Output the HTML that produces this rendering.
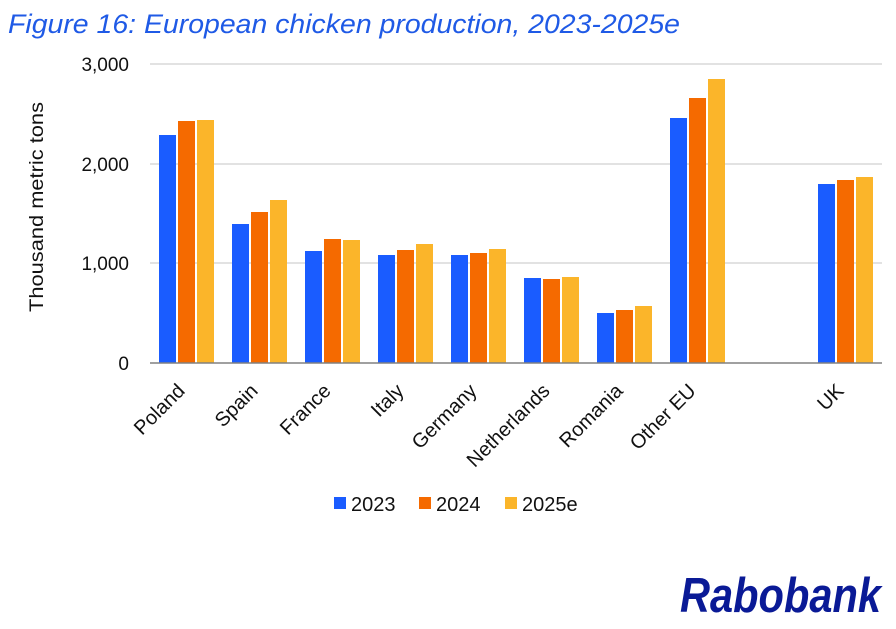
<!DOCTYPE html>
<html><head><meta charset="utf-8"><style>
html,body{margin:0;padding:0;background:#fff;width:896px;height:629px;overflow:hidden}
svg{display:block}
text{font-family:"Liberation Sans",sans-serif}
</style></head><body>
<svg width="896" height="629" viewBox="0 0 896 629" xmlns="http://www.w3.org/2000/svg">
<text x="8" y="33" font-style="italic" font-size="27" fill="#1f5ae6" textLength="672" lengthAdjust="spacingAndGlyphs">Figure 16: European chicken production, 2023-2025e</text>
<g stroke="#d9d9d9" stroke-width="1.5">
<line x1="150" y1="64" x2="882" y2="64"/>
<line x1="150" y1="164" x2="882" y2="164"/>
<line x1="150" y1="263" x2="882" y2="263"/>
</g>
<g font-size="19" fill="#111" text-anchor="end">
<text x="129" y="71">3,000</text>
<text x="129" y="171">2,000</text>
<text x="129" y="270">1,000</text>
<text x="129" y="370">0</text>
</g>
<text transform="translate(43,207) rotate(-90)" font-size="19" text-anchor="middle" fill="#111" textLength="210" lengthAdjust="spacingAndGlyphs">Thousand metric tons</text>
<g>
<rect x="159" y="135" width="17" height="228" fill="#1a5cff"/><rect x="178" y="121" width="17" height="242" fill="#f56a00"/><rect x="197" y="120" width="17" height="243" fill="#fbb52a"/>
<rect x="232" y="224" width="17" height="139" fill="#1a5cff"/><rect x="251" y="212" width="17" height="151" fill="#f56a00"/><rect x="270" y="200" width="17" height="163" fill="#fbb52a"/>
<rect x="305" y="251" width="17" height="112" fill="#1a5cff"/><rect x="324" y="239" width="17" height="124" fill="#f56a00"/><rect x="343" y="240" width="17" height="123" fill="#fbb52a"/>
<rect x="378" y="255" width="17" height="108" fill="#1a5cff"/><rect x="397" y="250" width="17" height="113" fill="#f56a00"/><rect x="416" y="244" width="17" height="119" fill="#fbb52a"/>
<rect x="451" y="255" width="17" height="108" fill="#1a5cff"/><rect x="470" y="253" width="17" height="110" fill="#f56a00"/><rect x="489" y="249" width="17" height="114" fill="#fbb52a"/>
<rect x="524" y="278" width="17" height="85" fill="#1a5cff"/><rect x="543" y="279" width="17" height="84" fill="#f56a00"/><rect x="562" y="277" width="17" height="86" fill="#fbb52a"/>
<rect x="597" y="313" width="17" height="50" fill="#1a5cff"/><rect x="616" y="310" width="17" height="53" fill="#f56a00"/><rect x="635" y="306" width="17" height="57" fill="#fbb52a"/>
<rect x="670" y="118" width="17" height="245" fill="#1a5cff"/><rect x="689" y="98" width="17" height="265" fill="#f56a00"/><rect x="708" y="79" width="17" height="284" fill="#fbb52a"/>
<rect x="818" y="184" width="17" height="179" fill="#1a5cff"/><rect x="837" y="180" width="17" height="183" fill="#f56a00"/><rect x="856" y="177" width="17" height="186" fill="#fbb52a"/>
</g>
<line x1="150" y1="363" x2="882" y2="363" stroke="#808080" stroke-width="1.5"/>
<g font-size="20" fill="#111" text-anchor="end">
<text transform="translate(186,392) rotate(-45)">Poland</text>
<text transform="translate(259,392) rotate(-45)">Spain</text>
<text transform="translate(332,392) rotate(-45)">France</text>
<text transform="translate(405,392) rotate(-45)">Italy</text>
<text transform="translate(478,392) rotate(-45)">Germany</text>
<text transform="translate(551,392) rotate(-45)">Netherlands</text>
<text transform="translate(624,392) rotate(-45)">Romania</text>
<text transform="translate(697,392) rotate(-45)">Other EU</text>
<text transform="translate(845,392) rotate(-45)">UK</text>
</g>
<g font-size="20" fill="#111">
<rect x="334" y="497" width="12" height="12" fill="#1a5cff"/><text x="351" y="511">2023</text>
<rect x="419" y="497" width="12" height="12" fill="#f56a00"/><text x="436" y="511">2024</text>
<rect x="505" y="497" width="12" height="12" fill="#fbb52a"/><text x="522" y="511">2025e</text>
</g>
<text x="881" y="612" text-anchor="end" font-size="49" font-weight="bold" font-style="italic" fill="#0a1a96" textLength="201" lengthAdjust="spacingAndGlyphs">Rabobank</text>
</svg>
</body></html>
